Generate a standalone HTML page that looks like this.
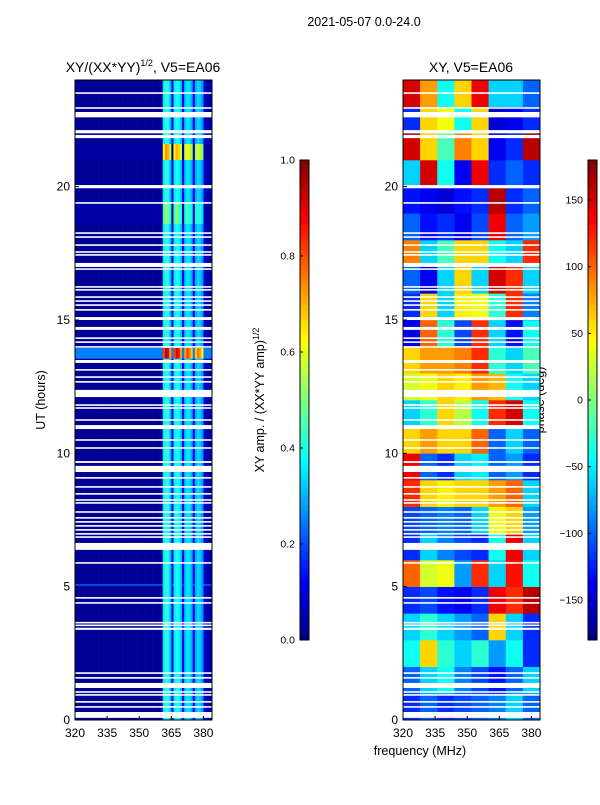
<!DOCTYPE html>
<html><head><meta charset="utf-8"><style>
body{margin:0;background:#fff;width:600px;height:800px;overflow:hidden;font-family:"Liberation Sans",sans-serif}
svg text{font-family:"Liberation Sans",sans-serif;fill:#000}
</style></head><body>
<svg id="fig" width="600" height="800" xmlns="http://www.w3.org/2000/svg">
<text x="364" y="26" font-size="12.5" text-anchor="middle">2021-05-07 0.0-24.0</text>
<text x="143" y="72" font-size="14" text-anchor="middle">XY/(XX*YY)<tspan font-size="9" dy="-6">1/2</tspan><tspan dy="6">, V5=EA06</tspan></text>
<text x="471" y="72" font-size="14" text-anchor="middle">XY, V5=EA06</text>
<text transform="translate(45,400) rotate(-90)" font-size="12.5" text-anchor="middle">UT (hours)</text>
<text x="420" y="755" font-size="12.5" text-anchor="middle">frequency (MHz)</text>
<text transform="translate(264,400) rotate(-90)" font-size="12.5" text-anchor="middle">XY amp. / (XX*YY amp)<tspan font-size="9" dy="-5">1/2</tspan></text>
<text transform="translate(544,400) rotate(-90)" font-size="12.5" text-anchor="middle">phase (deg)</text>
<g id="left"></g>
<g id="right"></g>
<g id="axes"></g>
</svg>
<script>
const utTicks=[0,5,10,15,20];
const freqTicks=[320,335,350,365,380];
const ampTicks=[0.0,0.2,0.4,0.6,0.8,1.0];
const phaseTicks=[-150,-100,-50,0,50,100,150];
const ampProfile=[0.02,0.02,0.02,0.02,0.02,0.02,0.02,0.02,0.02,0.02,0.02,0.02,0.02,0.02,0.02,0.02,0.02,0.02,0.02,0.02,
0.02,0.02,0.02,0.02,0.02,0.02,0.02,0.02,0.02,0.02,0.02,0.02,0.02,0.02,0.02,0.02,0.02,0.02,0.02,0.02,0.03,
0.36,0.42,0.4,0.32,0.12,0.36,0.4,0.38,0.32,0.12,0.32,0.36,0.34,0.3,0.12,0.3,0.34,0.32,0.28,0.08,0.05,0.05,0.05];
const ampBands=[[13.55,13.95,0.9,0.25],[21.0,21.6,0.7,0.03],[18.6,19.4,0.5,0.04],[5.03,5.1,0.4,0.2]];
const phaseGrid=[
[-120,-100,-120,-110,-100,-90,-60,-100],[-100,-60,-40,-90,-110,-130,-100,-60],[-40,60,-30,-60,-30,-80,-40,-120],
[-60,-30,-60,-80,-100,60,-60,-120],[-120,-110,-130,-140,-120,140,120,160],[100,30,40,-80,120,-60,130,-40],
[-120,-60,-90,-110,-120,-40,140,-60],[-110,-100,-90,-100,-60,40,60,-80],[120,60,50,60,60,80,100,-60],
[140,-100,-120,-60,-50,-100,-80,-120],[60,80,60,60,100,-100,-60,-100],[-60,-30,60,20,-40,120,150,-40],
[30,40,60,50,80,70,-40,-60],[60,80,80,90,120,-30,-60,-20],[-140,100,-30,-110,120,-60,-130,-40],
[-120,60,-60,50,40,-30,120,-90],[-100,-140,-60,60,-60,150,120,-60],[90,-60,-20,60,60,-40,-60,120],
[-100,-130,-120,-140,-110,140,-100,-80],[-130,-140,-150,-130,-120,160,-120,-100],[-60,150,-40,-140,140,-120,-100,-120],
[150,60,-20,90,60,-140,-120,160],[-120,60,40,-40,60,-150,-140,-120],[150,80,-40,60,140,-60,-60,-100]];
const gaps=[[23.48,23.54],[22.92,22.98],[22.6,22.8],[22.0,22.12],[21.82,21.94],[19.94,20.06],[19.36,19.42],[18.23,18.29],[18.08,18.14],
[17.78,17.84],[17.52,17.58],[17.41,17.47],[16.99,17.14],[16.88,16.94],[16.21,16.27],[16.1,16.16],[15.83,15.89],[15.68,15.74],[15.53,15.59],
[15.35,15.41],[15.0,15.11],[14.63,14.74],[14.29,14.35],[14.14,14.2],[13.96,14.02],[13.39,13.5],[13.1,13.16],[12.83,12.89],[12.65,12.71],
[12.11,12.38],[11.78,11.84],[11.67,11.73],[11.22,11.28],[10.91,11.06],[10.47,10.53],[10.17,10.23],[9.64,9.71],[9.3,9.53],[9.05,9.11],
[8.71,8.77],[8.45,8.51],[8.22,8.28],[8.11,8.17],[7.77,7.83],[7.55,7.61],[7.4,7.46],[7.25,7.31],[7.1,7.16],[6.95,7.01],[6.83,6.89],
[6.38,6.64],[5.86,5.92],[4.55,4.61],[4.36,4.42],[3.62,3.68],[3.52,3.58],[3.38,3.46],[1.73,1.79],[1.55,1.61],[1.2,1.39],[1.02,1.08],
[0.91,0.97],[0.65,0.71],[0.46,0.52],[0.08,0.3]];
const NS='http://www.w3.org/2000/svg';
function jet(v){v=Math.max(0,Math.min(1,v));const f=x=>Math.round(255*Math.max(0,Math.min(1,x)));
return `rgb(${f(1.5-Math.abs(4*v-3))},${f(1.5-Math.abs(4*v-2))},${f(1.5-Math.abs(4*v-1))})`;}
const Y0=720,Y1=80,yS=ut=>Y0-(Y0-Y1)*ut/24;
function xS(f,left){const x0=left?75:403;return x0+(f-320)*137/64;}
function el(p,t,a){const e=document.createElementNS(NS,t);for(const k in a)e.setAttribute(k,a[k]);p.appendChild(e);return e;}
const L=document.getElementById('left'),R=document.getElementById('right'),A=document.getElementById('axes');
for(let c=0;c<ampProfile.length;c++){
  const r=el(L,'rect',{x:xS(320+c,true),y:Y1,width:137/64+0.3,height:Y0-Y1,fill:jet(ampProfile[c])});
  
  
}
ampBands.forEach(b=>{for(let c=0;c<ampProfile.length;c++){const v=ampProfile[c]>0.15?b[2]*(ampProfile[c]/0.4):b[3];
  const r=el(L,'rect',{x:xS(320+c,true),y:yS(b[1]),width:137/64+0.3,height:yS(b[0])-yS(b[1]),fill:jet(v)});
  
  }});
phaseGrid.forEach((row,h)=>row.forEach((v,c)=>{
  const r=el(R,'rect',{x:xS(320+c*8,false),y:yS(h+1),width:137/8+0.3,height:yS(h)-yS(h+1)+0.3,fill:jet((v+180)/360)});
  
  
}));
gaps.forEach(g=>[true,false].forEach(lft=>{
  const r=el(lft?L:R,'rect',{x:lft?75:403,y:yS(g[1]),width:137,height:Math.max(1.2,yS(g[0])-yS(g[1])),fill:'#fff'});
  
  
}));
[75,403].forEach((x0,i)=>{
  const f=el(A,'rect',{x:x0,y:Y1,width:137,height:Y0-Y1,fill:'none',stroke:'#000','stroke-width':1});
  
  
  utTicks.forEach(u=>{el(A,'line',{x1:x0,x2:x0+4,y1:yS(u),y2:yS(u),stroke:'#000'});
    const t=el(A,'text',{x:x0-5,y:yS(u)+4,'font-size':12,'text-anchor':'end'});t.textContent=u;
    
    });
  freqTicks.forEach(fq=>{const x=xS(fq,i==0);el(A,'line',{x1:x,x2:x,y1:Y0,y2:Y0-4,stroke:'#000'});
    const t=el(A,'text',{x:x,y:Y0+17,'font-size':12,'text-anchor':'middle'});t.textContent=fq;
    
    });
});
function cbar(x,name,ticks,lo,hi){
  const g=el(A,'g',{});
  for(let i=0;i<96;i++){el(g,'rect',{x:x,y:640-(i+1)*5,width:9,height:5.4,fill:jet((i+0.5)/96)});}
  el(g,'rect',{x:x,y:160,width:9,height:480,fill:'none',stroke:'#000'});
  ticks.forEach(v=>{const y=640-480*(v-lo)/(hi-lo);
    el(g,'line',{x1:x,x2:x+3,y1:y,y2:y,stroke:'#000'});
    const t=el(g,'text',{x:x-5,y:y+3.5,'font-size':10.5,'text-anchor':'end'});
    t.textContent=(hi===1?v.toFixed(1):String(v).replace('-','\u2212'));
    
    });
}
cbar(300,'amp-colorbar',ampTicks,0,1);
cbar(588,'phase-colorbar',phaseTicks,-180,180);
</script>
</body></html>
